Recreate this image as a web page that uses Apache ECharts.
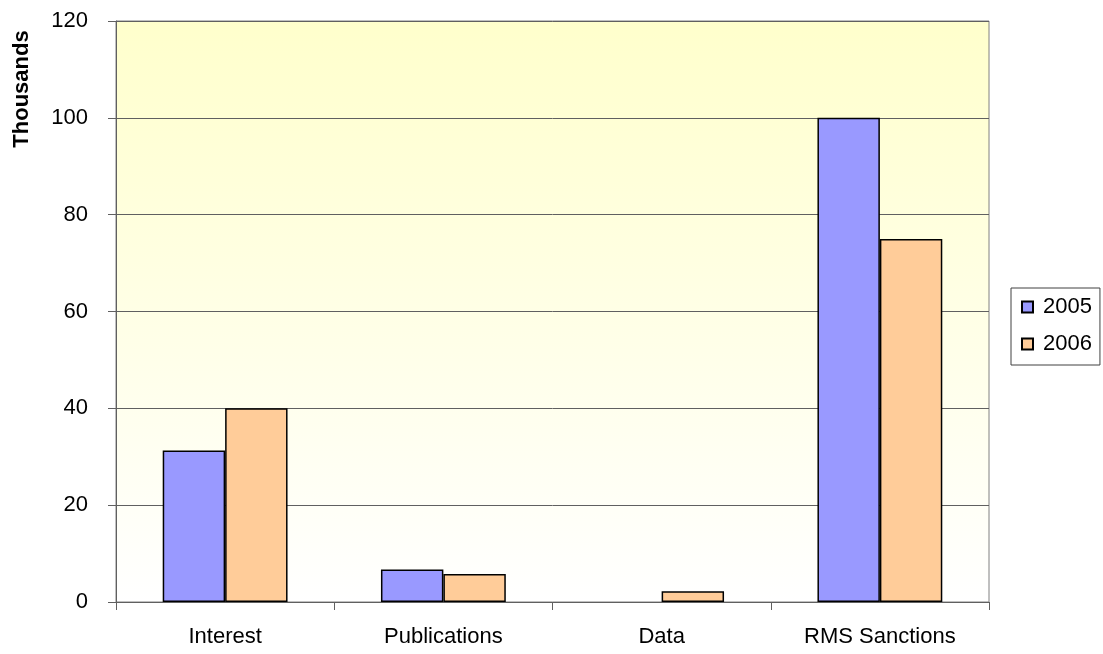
<!DOCTYPE html>
<html>
<head>
<meta charset="utf-8">
<script src="https://cdn.jsdelivr.net/npm/echarts@6/dist/echarts.min.js"></script>
<style>
  html, body { margin: 0; padding: 0; background: #ffffff; }
  #chart { width: 1103px; height: 654px; }
</style>
</head>
<body>
<div id="chart"></div>
<script>
// Revenue by source, in thousands
const categories = ['Interest', 'Publications', 'Data', 'RMS Sanctions'];
const values2005 = [31.3, 6.7, 0, 100];
const values2006 = [40, 5.8, 2.2, 75];
const yTicks = { min: 0, max: 120, interval: 20 };
const seriesNames = ['2005', '2006'];

const FONT = 'Liberation Sans, Arial, sans-serif';
const chart = echarts.init(document.getElementById('chart'));

// Zero values get no outline, so an empty category shows nothing
const toBarData = vals => vals.map(v => v === 0 ? { value: v, itemStyle: { borderWidth: 0 } } : v);

chart.setOption({
  animation: false,
  grid: {
    left: 116, right: 114, top: 21, bottom: 52,
    show: true,
    borderColor: '#808080',
    borderWidth: 1,
    backgroundColor: new echarts.graphic.LinearGradient(0, 0, 0, 1, [
      { offset: 0, color: '#FFFFCC' },
      { offset: 1, color: '#FFFFFF' }
    ])
  },
  legend: {
    orient: 'vertical',
    left: 1011, top: 288,
    padding: [8, 8, 10, 10],
    itemGap: 15,
    itemWidth: 11, itemHeight: 11,
    borderColor: '#404040', borderWidth: 1,
    icon: 'rect',
    textStyle: { fontFamily: FONT, fontSize: 22, color: '#000', padding: [0, 0, 0, 5] },
    data: seriesNames
  },
  xAxis: {
    type: 'category',
    data: categories,
    axisLine: { lineStyle: { color: '#606060', width: 1 } },
    axisTick: { show: true, length: 8, lineStyle: { color: '#606060' } },
    axisLabel: { fontFamily: FONT, fontSize: 22, color: '#000', margin: 24 }
  },
  yAxis: {
    type: 'value',
    min: yTicks.min, max: yTicks.max, interval: yTicks.interval,
    axisLine: { show: true, lineStyle: { color: '#606060', width: 1 } },
    axisTick: { show: true, length: 8, lineStyle: { color: '#606060' } },
    splitLine: { lineStyle: { color: '#606060', width: 1 } },
    axisLabel: { fontFamily: FONT, fontSize: 22, color: '#000', margin: 28 }
  },
  graphic: [{
    type: 'text',
    rotation: Math.PI / 2,
    x: 22, y: 89,
    style: {
      text: 'Thousands',
      font: 'bold 22px ' + FONT,
      fill: '#000',
      align: 'center',
      verticalAlign: 'middle'
    }
  }],
  series: [
    {
      name: seriesNames[0], type: 'bar', data: toBarData(values2005),
      barWidth: '28.6%', barGap: '0%',
      itemStyle: { color: '#9999FF', borderColor: '#000', borderWidth: 1.5 }
    },
    {
      name: seriesNames[1], type: 'bar', data: toBarData(values2006),
      barWidth: '28.6%', barGap: '0%',
      itemStyle: { color: '#FFCC99', borderColor: '#000', borderWidth: 1.5 }
    }
  ]
});
</script>
</body>
</html>
